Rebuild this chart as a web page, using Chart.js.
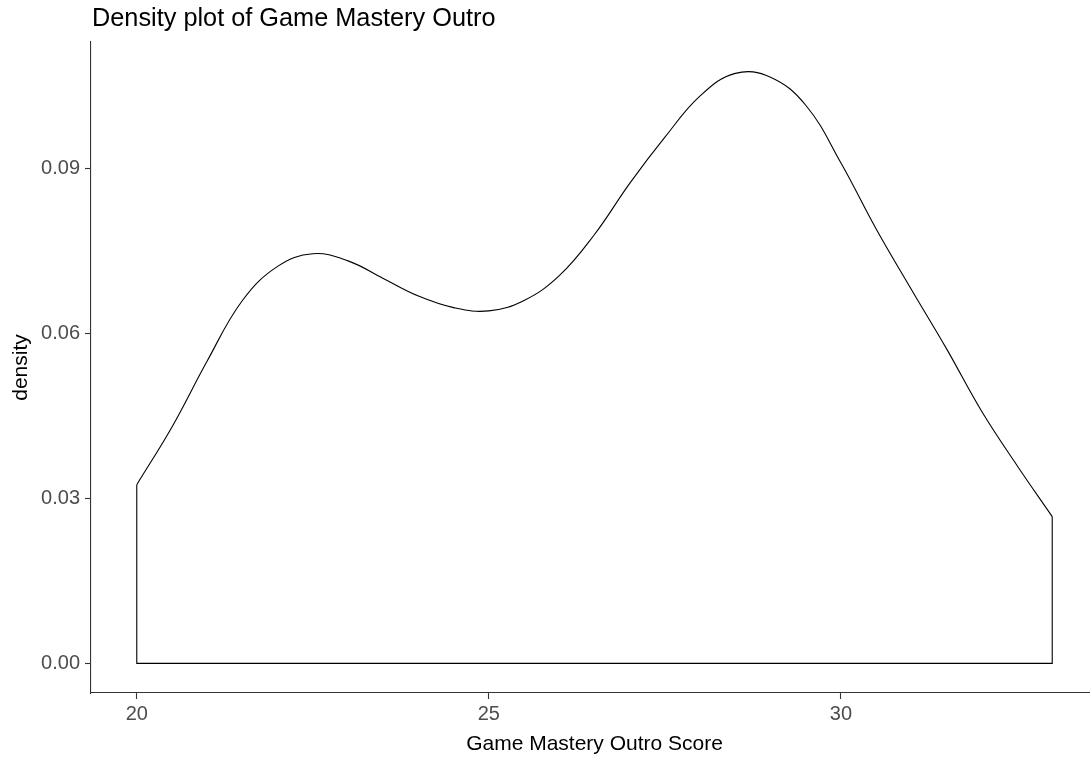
<!DOCTYPE html>
<html>
<head>
<meta charset="utf-8">
<script src="https://cdn.jsdelivr.net/npm/chart.js@4/dist/chart.umd.min.js"></script>
<style>
  html, body { margin: 0; padding: 0; background: #fff; overflow: hidden; }
  #wrap { position: relative; width: 1100px; height: 761px; }
  #title {
    position: absolute; left: 92px; top: 5px; line-height: 25px;
    font-family: "Liberation Sans", Arial, sans-serif; font-size: 25.3px; color: #000;
  }
</style>
</head>
<body>
<div id="wrap">
  <div id="title">Density plot of Game Mastery Outro</div>
  <canvas id="densityChart" width="1100" height="761"></canvas>
</div>
<script>
// values
const scores = [20, 20.5, 21, 21.5, 22, 22.5, 23, 23.5, 24, 24.5, 25, 25.5, 26,
  26.5, 27, 27.5, 28, 28.5, 29, 29.5, 30, 30.5, 31, 31.5, 32, 32.5, 33];
const density = [0.0325, 0.0430, 0.0550, 0.0660, 0.0722, 0.0745, 0.0732, 0.0700, 0.0668,
  0.0647, 0.0641, 0.0660, 0.0705, 0.0780, 0.0873, 0.0957, 0.1032, 0.1073, 0.1066,
  0.1015, 0.0910, 0.0790, 0.0680, 0.0572, 0.0458, 0.0360, 0.0267];
const xTicks = [20, 25, 30];
const yTicks = [0, 0.03, 0.06, 0.09];

const curve = scores.map((s, i) => ({ x: s, y: density[i] }));
const last = scores.length - 1;
// vertical ends and baseline of the density polygon
const outline = [
  { x: scores[0], y: density[0] },
  { x: scores[0], y: 0 },
  { x: scores[last], y: 0 },
  { x: scores[last], y: density[last] }
];

const font = "'Liberation Sans', Arial, sans-serif";

new Chart(document.getElementById('densityChart'), {
  type: 'scatter',
  data: {
    datasets: [{
      data: curve,
      showLine: true,
      borderColor: '#000',
      borderWidth: 1.1,
      pointRadius: 0,
      tension: 0.4
    }, {
      data: outline,
      showLine: true,
      borderColor: '#000',
      borderWidth: 1.1,
      pointRadius: 0,
      tension: 0
    }]
  },
  options: {
    responsive: false,
    animation: false,
    layout: { padding: { left: 0, right: 2, top: 42, bottom: 0 } },
    plugins: { legend: { display: false }, tooltip: { enabled: false } },
    scales: {
      x: {
        min: 19.35,
        max: 33.65,
        afterBuildTicks: scale => { scale.ticks = xTicks.map(v => ({ value: v })); },
        afterFit: scale => { scale.height = 68; },
        border: { display: true, color: '#333', width: 1.1 },
        grid: { drawOnChartArea: false, tickLength: 6, color: '#333', tickWidth: 1.1 },
        ticks: { color: '#4d4d4d', font: { family: font, size: 20 }, padding: 3, maxRotation: 0 },
        title: { display: true, text: 'Game Mastery Outro Score', color: '#000',
          font: { family: font, size: 21 }, padding: { top: 0, bottom: 4 } }
      },
      y: {
        min: -0.00538,
        max: 0.113,
        afterBuildTicks: scale => { scale.ticks = yTicks.map(v => ({ value: v })); },
        afterFit: scale => { scale.width = 91; },
        border: { display: true, color: '#333', width: 1.1 },
        grid: { drawOnChartArea: false, tickLength: 6, color: '#333', tickWidth: 1.1 },
        ticks: { color: '#4d4d4d', font: { family: font, size: 20 }, padding: 5,
          callback: v => v.toFixed(2) },
        title: { display: true, text: 'density', color: '#000',
          font: { family: font, size: 21 }, padding: { top: 9, bottom: 0 } }
      }
    }
  }
});
</script>
</body>
</html>
